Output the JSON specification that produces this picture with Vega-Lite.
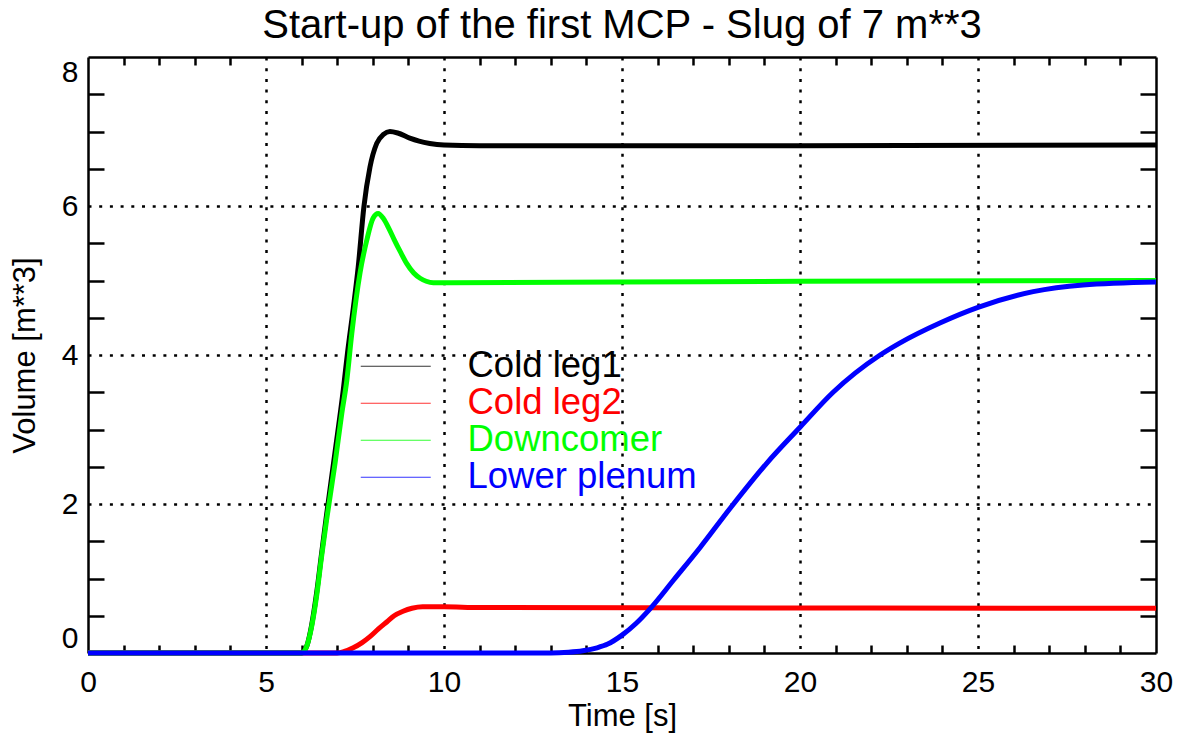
{
  "$schema": "https://vega.github.io/schema/vega-lite/v6.json",
  "width": 1068,
  "height": 596,
  "autosize": {"type": "none"},
  "padding": {"left": 88, "top": 57, "right": 25, "bottom": 80},
  "background": "white",
  "title": {"text": "Start-up of the first MCP - Slug of 7 m**3", "fontSize": 40, "font": "Liberation Sans", "fontWeight": "normal", "color": "black", "anchor": "middle", "baseline": "alphabetic", "offset": -22},
  "config": {
    "view": {"stroke": null},
    "axis": {"labelFont": "Liberation Sans", "labelFontSize": 30, "labelColor": "black", "titleFont": "Liberation Sans", "titleFontSize": 31, "titleFontWeight": "normal", "titleColor": "black", "domainColor": "black", "domainWidth": 2.5, "tickColor": "black", "tickWidth": 2.5, "gridColor": "black", "zindex": 0, "labelOverlap": false}
  },
  "data": {"values": [
    {"series": "Cold leg1", "t": 0, "v": 0}, {"series": "Cold leg1", "t": 6.0, "v": 0}, {"series": "Cold leg1", "t": 6.15, "v": 0.1}, {"series": "Cold leg1", "t": 6.28, "v": 0.37}, {"series": "Cold leg1", "t": 6.42, "v": 0.8}, {"series": "Cold leg1", "t": 6.56, "v": 1.33}, {"series": "Cold leg1", "t": 6.7, "v": 1.85}, {"series": "Cold leg1", "t": 6.94, "v": 2.7}, {"series": "Cold leg1", "t": 7.17, "v": 3.53}, {"series": "Cold leg1", "t": 7.29, "v": 4.03}, {"series": "Cold leg1", "t": 7.45, "v": 4.62}, {"series": "Cold leg1", "t": 7.59, "v": 5.18}, {"series": "Cold leg1", "t": 7.75, "v": 5.99}, {"series": "Cold leg1", "t": 7.92, "v": 6.52}, {"series": "Cold leg1", "t": 8.11, "v": 6.84}, {"series": "Cold leg1", "t": 8.3, "v": 6.96}, {"series": "Cold leg1", "t": 8.48, "v": 7.0}, {"series": "Cold leg1", "t": 8.7, "v": 6.98}, {"series": "Cold leg1", "t": 9.04, "v": 6.91}, {"series": "Cold leg1", "t": 9.3, "v": 6.87}, {"series": "Cold leg1", "t": 9.6, "v": 6.84}, {"series": "Cold leg1", "t": 10.0, "v": 6.82}, {"series": "Cold leg1", "t": 11, "v": 6.81}, {"series": "Cold leg1", "t": 20, "v": 6.81}, {"series": "Cold leg1", "t": 30, "v": 6.82},
    {"series": "Cold leg2", "t": 0, "v": 0}, {"series": "Cold leg2", "t": 7.0, "v": 0}, {"series": "Cold leg2", "t": 7.2, "v": 0.02}, {"series": "Cold leg2", "t": 7.45, "v": 0.07}, {"series": "Cold leg2", "t": 7.7, "v": 0.14}, {"series": "Cold leg2", "t": 7.92, "v": 0.22}, {"series": "Cold leg2", "t": 8.15, "v": 0.32}, {"series": "Cold leg2", "t": 8.4, "v": 0.42}, {"series": "Cold leg2", "t": 8.6, "v": 0.5}, {"series": "Cold leg2", "t": 8.85, "v": 0.56}, {"series": "Cold leg2", "t": 9.1, "v": 0.6}, {"series": "Cold leg2", "t": 9.4, "v": 0.62}, {"series": "Cold leg2", "t": 10, "v": 0.62}, {"series": "Cold leg2", "t": 11, "v": 0.61}, {"series": "Cold leg2", "t": 30, "v": 0.6},
    {"series": "Downcomer", "t": 0, "v": 0}, {"series": "Downcomer", "t": 6.0, "v": 0}, {"series": "Downcomer", "t": 6.15, "v": 0.1}, {"series": "Downcomer", "t": 6.28, "v": 0.35}, {"series": "Downcomer", "t": 6.42, "v": 0.76}, {"series": "Downcomer", "t": 6.56, "v": 1.29}, {"series": "Downcomer", "t": 6.7, "v": 1.78}, {"series": "Downcomer", "t": 6.94, "v": 2.55}, {"series": "Downcomer", "t": 7.13, "v": 3.22}, {"series": "Downcomer", "t": 7.27, "v": 3.66}, {"series": "Downcomer", "t": 7.41, "v": 4.29}, {"series": "Downcomer", "t": 7.64, "v": 5.1}, {"series": "Downcomer", "t": 7.83, "v": 5.54}, {"series": "Downcomer", "t": 8.01, "v": 5.84}, {"series": "Downcomer", "t": 8.15, "v": 5.9}, {"series": "Downcomer", "t": 8.3, "v": 5.83}, {"series": "Downcomer", "t": 8.45, "v": 5.7}, {"series": "Downcomer", "t": 8.6, "v": 5.55}, {"series": "Downcomer", "t": 8.78, "v": 5.38}, {"series": "Downcomer", "t": 8.95, "v": 5.23}, {"series": "Downcomer", "t": 9.15, "v": 5.1}, {"series": "Downcomer", "t": 9.33, "v": 5.03}, {"series": "Downcomer", "t": 9.5, "v": 4.99}, {"series": "Downcomer", "t": 9.7, "v": 4.97}, {"series": "Downcomer", "t": 10.2, "v": 4.97}, {"series": "Downcomer", "t": 15, "v": 4.98}, {"series": "Downcomer", "t": 20, "v": 4.99}, {"series": "Downcomer", "t": 30, "v": 5.0},
    {"series": "Lower plenum", "t": 0, "v": 0}, {"series": "Lower plenum", "t": 13, "v": 0}, {"series": "Lower plenum", "t": 13.5, "v": 0.01}, {"series": "Lower plenum", "t": 13.9, "v": 0.03}, {"series": "Lower plenum", "t": 14.3, "v": 0.07}, {"series": "Lower plenum", "t": 14.6, "v": 0.12}, {"series": "Lower plenum", "t": 15, "v": 0.24}, {"series": "Lower plenum", "t": 15.4, "v": 0.4}, {"series": "Lower plenum", "t": 15.8, "v": 0.6}, {"series": "Lower plenum", "t": 16.45, "v": 0.98}, {"series": "Lower plenum", "t": 17.2, "v": 1.42}, {"series": "Lower plenum", "t": 18.05, "v": 1.95}, {"series": "Lower plenum", "t": 19.07, "v": 2.55}, {"series": "Lower plenum", "t": 20, "v": 3.03}, {"series": "Lower plenum", "t": 20.93, "v": 3.5}, {"series": "Lower plenum", "t": 22.25, "v": 4.0}, {"series": "Lower plenum", "t": 22.8, "v": 4.16}, {"series": "Lower plenum", "t": 23.93, "v": 4.43}, {"series": "Lower plenum", "t": 25, "v": 4.64}, {"series": "Lower plenum", "t": 26.55, "v": 4.85}, {"series": "Lower plenum", "t": 27.95, "v": 4.94}, {"series": "Lower plenum", "t": 30, "v": 4.98}
  ]},
  "layer": [
    {
      "mark": {"type": "line", "strokeWidth": 5, "interpolate": "monotone"},
      "encoding": {
        "x": {"field": "t", "type": "quantitative", "scale": {"domain": [0, 30], "nice": false},
          "axis": {"orient": "bottom", "values": [0,1,2,3,4,5,6,7,8,9,10,11,12,13,14,15,16,17,18,19,20,21,22,23,24,25,26,27,28,29,30],
            "labelExpr": "datum.value % 5 === 0 ? format(datum.value, 'd') : ''", "labelFlush": false, "labelPadding": 22,
            "tickSize": -8, "tickOpacity": {"condition": {"test": "datum.value % 5 === 0", "value": 0}, "value": 1},
            "grid": true, "gridDash": [3, 7.7], "gridWidth": 2.5,
            "gridOpacity": {"condition": {"test": "datum.value % 5 === 0 && datum.value > 0 && datum.value < 30", "value": 1}, "value": 0},
            "title": "Time [s]", "titlePadding": 4}},
        "y": {"field": "v", "type": "quantitative", "scale": {"domain": [0, 8], "nice": false},
          "axis": {"orient": "left", "values": [0,0.5,1,1.5,2,2.5,3,3.5,4,4.5,5,5.5,6,6.5,7,7.5,8],
            "labelExpr": "datum.value % 2 === 0 ? format(datum.value, 'd') : ''", "labelFlush": true, "labelPadding": 26,
            "tickSize": -16, "tickOpacity": {"condition": {"test": "datum.value % 2 === 0", "value": 0}, "value": 1},
            "grid": true, "gridDash": [3, 7.7], "gridWidth": 2.5,
            "gridOpacity": {"condition": {"test": "datum.value % 2 === 0 && datum.value > 0 && datum.value < 8", "value": 1}, "value": 0},
            "title": "Volume [m**3]", "titlePadding": 20}},
        "color": {"field": "series", "type": "nominal",
          "scale": {"domain": ["Cold leg1", "Cold leg2", "Downcomer", "Lower plenum"], "range": ["#000000", "#ff0000", "#00ff00", "#0000ff"]},
          "legend": {"orient": "none", "legendX": 289.5, "legendY": 291, "title": null, "symbolType": "M-2,0H2", "symbolSize": 1225, "symbolStrokeWidth": 1,
            "labelFont": "Liberation Sans", "labelFontSize": 36.5, "labelOffset": 53.5, "labelLimit": 500, "rowPadding": -1,
            "encode": {"labels": {"update": {"fill": {"scale": "color", "field": "value"}}}, "symbols": {"update": {"stroke": {"scale": "color", "field": "value"}, "strokeOpacity": {"value": 0.8}}}}}}
      }
    },
    {
      "mark": {"type": "line", "strokeOpacity": 0},
      "encoding": {
        "x": {"field": "t", "type": "quantitative", "scale": {"domain": [0, 30], "nice": false},
          "axis": {"orient": "top", "values": [0,1,2,3,4,5,6,7,8,9,10,11,12,13,14,15,16,17,18,19,20,21,22,23,24,25,26,27,28,29,30],
            "labels": false, "grid": false, "tickSize": -8, "tickOpacity": {"condition": {"test": "datum.value % 5 === 0", "value": 0}, "value": 1}, "title": null}},
        "y": {"field": "v", "type": "quantitative", "scale": {"domain": [0, 8], "nice": false},
          "axis": {"orient": "right", "values": [0,0.5,1,1.5,2,2.5,3,3.5,4,4.5,5,5.5,6,6.5,7,7.5,8],
            "labels": false, "grid": false, "tickSize": -16, "tickOpacity": {"condition": {"test": "datum.value % 2 === 0", "value": 0}, "value": 1}, "title": null}},
        "detail": {"field": "series"}
      }
    }
  ],
  "resolve": {"axis": {"x": "independent", "y": "independent"}}
}
